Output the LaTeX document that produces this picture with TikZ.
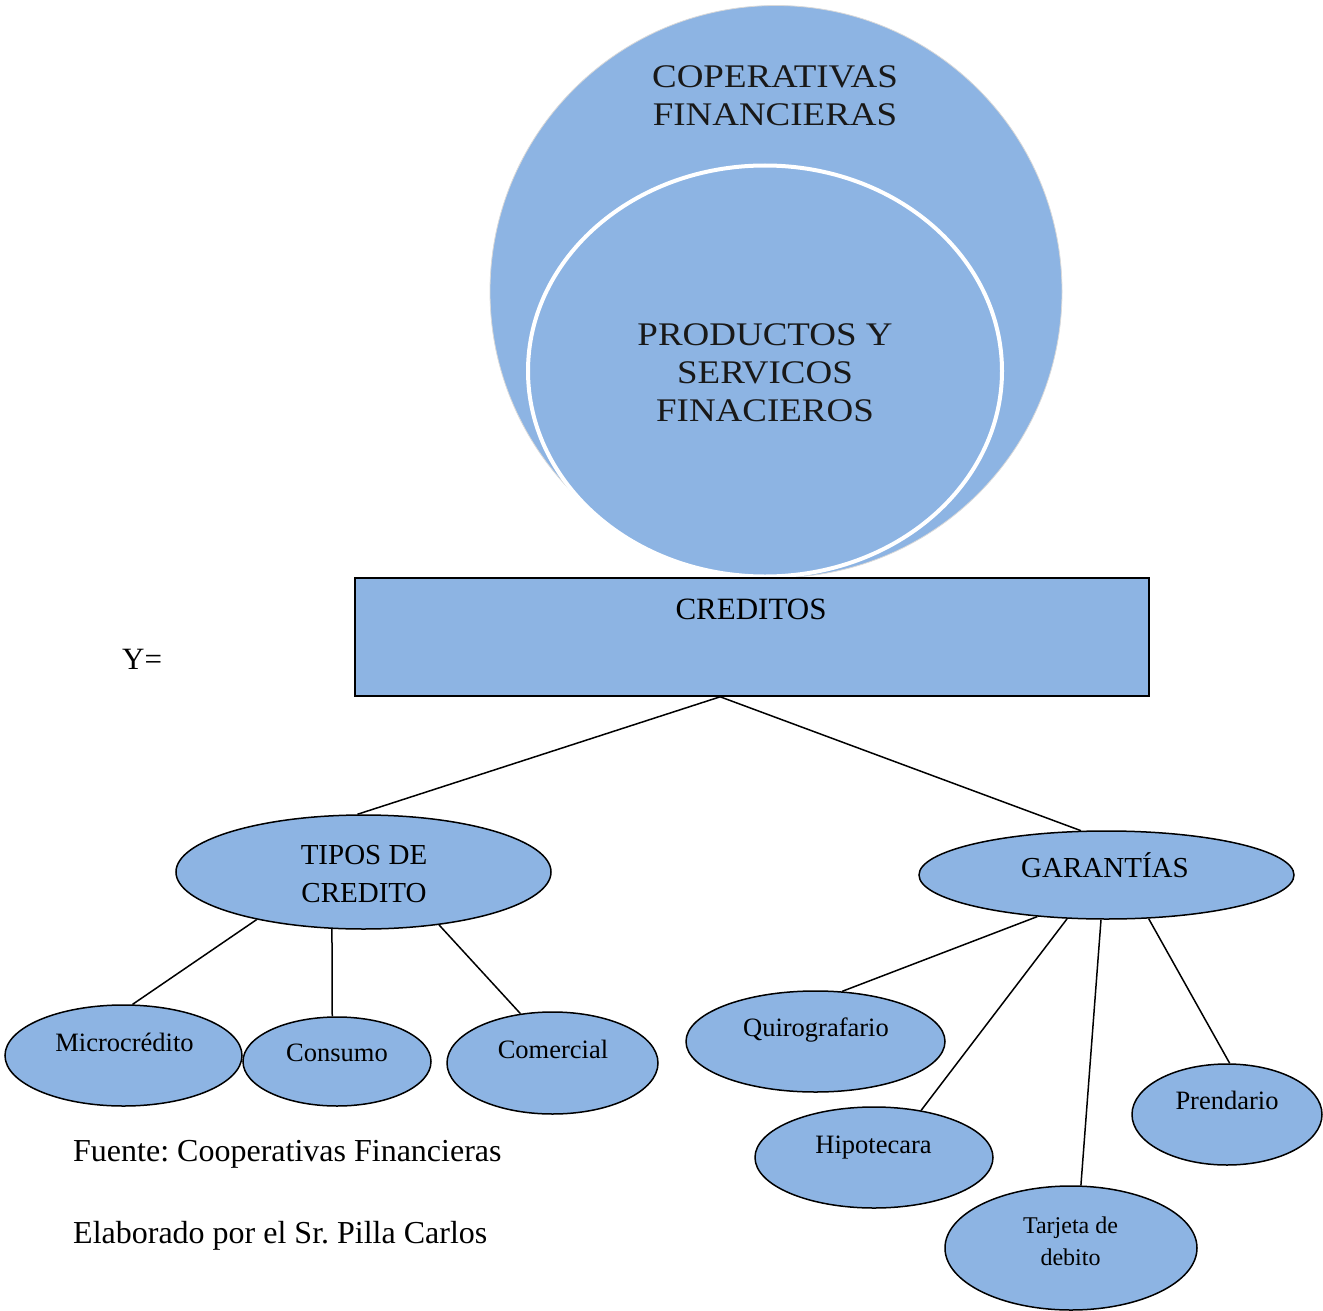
\documentclass[tikz,border=0pt]{standalone}
\usepackage{fontspec}
\setmainfont{Liberation Serif}
\newfontfamily\circlefont[FakeStretch=1.12]{Liberation Serif}
\usetikzlibrary{shapes.geometric,calc}

\definecolor{boxblue}{RGB}{141,180,227}
\frenchspacing

\begin{document}
\begin{tikzpicture}[x=1pt,y=-1pt,
  bubble/.style={ellipse, draw=black, line width=1.5pt, fill=boxblue, inner sep=0pt},
  link/.style={draw=black, line width=1.5pt},
  leaftxt/.style={inner sep=0pt, anchor=base, font=\fontsize{26.5}{30}\selectfont},
  midtxt/.style={inner sep=0pt, font=\fontsize{29}{38}\selectfont, align=center},
  bigtxt/.style={inner sep=0pt, anchor=base west, font=\fontsize{32}{38}\selectfont},
  circtxt/.style={inner sep=0pt, align=center, text=black!90,
    font=\circlefont\fontsize{33}{38}\selectfont}
]
\useasboundingbox (0,0) rectangle (1323,1311);

% nested circles at the top
\node (coop) [circle, fill=boxblue, draw=black!15, line width=0.8pt,
  minimum size=572pt, inner sep=0pt] at (776,291.5) {};
\node (prod) [ellipse, fill=boxblue, draw=white, line width=4pt,
  minimum width=474pt, minimum height=411pt, inner sep=0pt] at (765,371) {};
\node (coop-t) [circtxt] at (775,96) {COPERATIVAS\\FINANCIERAS};
\node (prod-t) [circtxt] at (765,373) {PRODUCTOS Y\\SERVICOS\\FINACIEROS};

% credit box
\node (cred) [draw=black, line width=1.6pt, fill=boxblue, inner sep=0pt,
  minimum width=794pt, minimum height=118pt] at (752,637) {};
\node (cred-t) [inner sep=0pt, anchor=base, font=\fontsize{31}{36}\selectfont]
  at (751,619) {CREDITOS};
\node (y-t) [inner sep=0pt, anchor=base west, font=\fontsize{31}{36}\selectfont]
  at (122,669) {Y=};

% second level
\node (tipos) [bubble, minimum width=375pt, minimum height=114pt] at (363.5,872) {};
\node (tipos-t) [midtxt] at (364,874) {TIPOS DE\\CREDITO};
\node (gar) [bubble, minimum width=375pt, minimum height=88pt] at (1106.5,875) {};
\node (gar-t) [inner sep=0pt, anchor=base, font=\fontsize{29}{34}\selectfont]
  at (1105,877) {GARANTÍAS};

\coordinate (cb) at ($(cred.south west)!0.46!(cred.south east)$);
\draw[link] (cb) -- (tipos.96);
\draw[link] (cb) -- (gar.120.6);

% kinds of credit
\node (micro) [bubble, minimum width=237pt, minimum height=101pt] at (123.5,1055.5) {};
\node (micro-t) [leaftxt] at (124.5,1051.5) {Microcrédito};
\node (cons) [bubble, minimum width=188pt, minimum height=89pt] at (337,1061.5) {};
\node (cons-t) [leaftxt] at (337,1061.5) {Consumo};
\node (com) [bubble, minimum width=211pt, minimum height=102pt] at (552.5,1063) {};
\node (com-t) [leaftxt] at (553,1058.5) {Comercial};

\draw[link] (tipos.204) -- (micro.80.4);
\draw[link] (tipos.241.5) -- (cons.96.4);
\draw[link] (tipos.325.8) -- (com.123.6);

% guarantees
\node (quiro) [bubble, minimum width=259pt, minimum height=101pt] at (815.5,1041.5) {};
\node (quiro-t) [leaftxt] at (816,1036.5) {Quirografario};
\node (hipo) [bubble, minimum width=238pt, minimum height=101pt] at (874,1157.5) {};
\node (hipo-t) [leaftxt] at (873.5,1153) {Hipotecara};
\node (tarj) [bubble, minimum width=252pt, minimum height=124pt] at (1071,1248) {};
\node (tarj-t) [inner sep=0pt, align=center, font=\fontsize{24}{32}\selectfont]
  at (1070.5,1241) {Tarjeta de\\debito};
\node (prend) [bubble, minimum width=190pt, minimum height=101pt] at (1227,1114.5) {};
\node (prend-t) [leaftxt] at (1227,1109.5) {Prendario};

\draw[link] (gar.211.8) -- (quiro.62.3);
\draw[link] (gar.228.4) -- (hipo.45.3);
\draw[link] (gar.263.5) -- (tarj.81.7);
\draw[link] (gar.314.3) -- (prend.87.7);

% source notes
\node (fuente) [bigtxt] at (73,1161) {Fuente: Cooperativas Financieras};
\node (autor) [bigtxt] at (73,1243) {Elaborado por el Sr. Pilla Carlos};
\end{tikzpicture}
\end{document}
